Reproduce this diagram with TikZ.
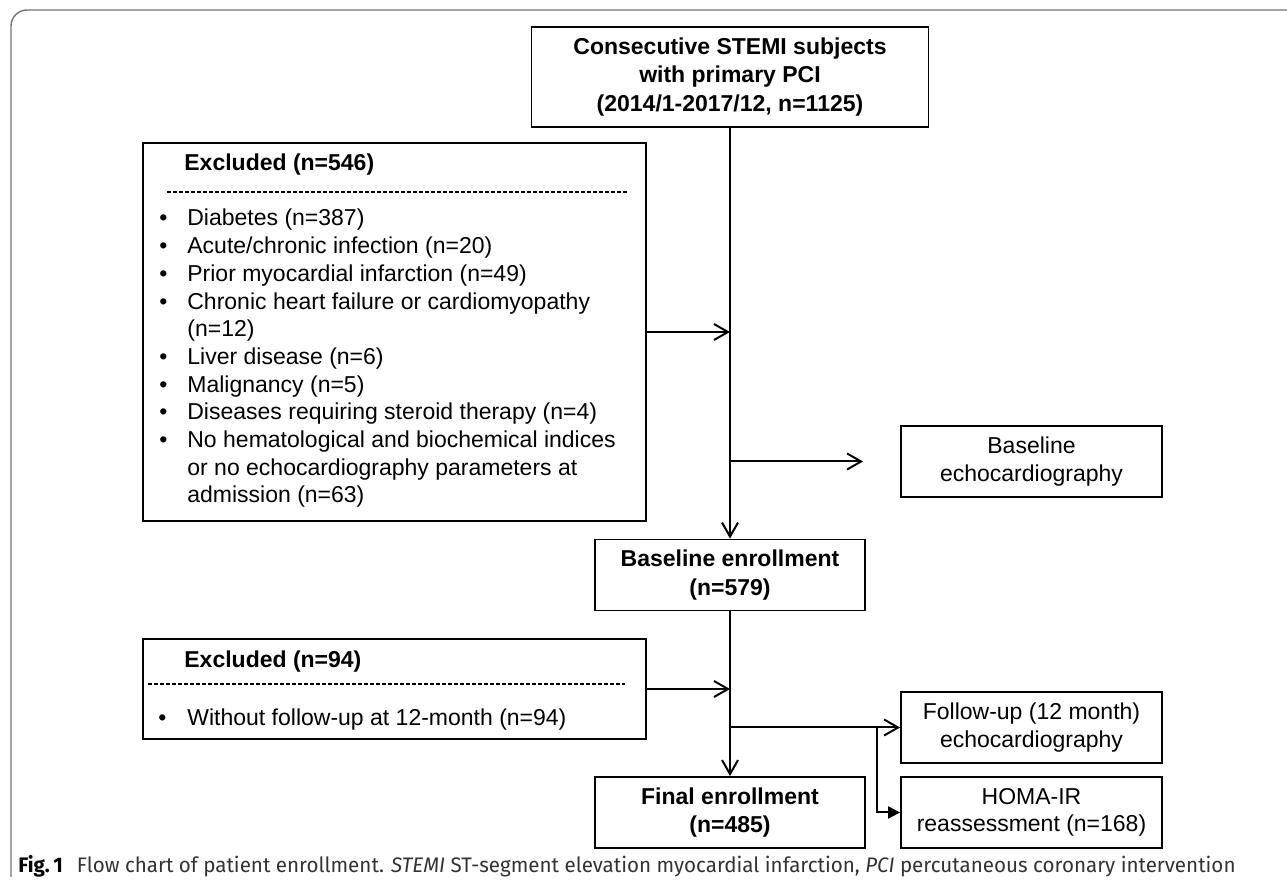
\documentclass[tikz,border=0pt]{standalone}
\usepackage{fontspec}
\setmainfont{Liberation Sans}
\newfontfamily\capfont[FakeStretch=0.98]{Fira Sans}
\usepackage{array}
\usetikzlibrary{arrows.meta}
\usetikzlibrary{positioning}
\usetikzlibrary{calc}

\tikzset{
  box/.style={draw, line width=0.9pt, inner sep=0pt, align=center, font=\fontsize{11.5}{13.6}\selectfont},
  boldbox/.style={box, font=\fontsize{11.5}{14.4}\selectfont\bfseries},
  centerbox/.style={boldbox, minimum width=135pt, minimum height=35.5pt},
  sidebox/.style={box, minimum width=130.5pt, minimum height=35.5pt},
  exbox/.style={draw, line width=0.9pt, inner sep=0pt, minimum width=251.5pt},
  extitle/.style={anchor=base west, inner sep=0pt, font=\fontsize{11.5}{13.8}\selectfont\bfseries},
  exlist/.style={anchor=base west, inner sep=0pt, font=\fontsize{11.5}{13.85}\selectfont},
  sep/.style={line width=0.8pt, dash pattern=on 2pt off 1pt},
  flow/.style={line width=1pt, -{Straight Barb[length=7pt,width=8pt]}},
  flowfill/.style={line width=1pt, -{Triangle[length=6pt,width=6pt]}},
  frame/.style={draw=black!55, line width=0.7pt}
}

\begin{document}
\begin{tikzpicture}[x=0.5pt,y=-0.5pt]

        % page frame
        \useasboundingbox (0,0) rectangle (1287,887);
        \draw[frame, rounded corners=8pt] (1287,10) -- (11,10) -- (11,877);

        % draw the main column
        \node[boldbox, minimum width=198.5pt, minimum height=50pt] (start) at (730,77) {Consecutive STEMI subjects\\with primary PCI\\(2014/1-2017/12, n=1125)};
        \node[centerbox] (baseline) at (730,575) {Baseline enrollment\\(n=579)};
        \node[centerbox] (final) at (730,812.5) {Final enrollment\\(n=485)};

        % draw the first exclusion box
        \node[exbox, minimum height=189pt] (excl1) at (394.5,332) {};
        \node[extitle] (excl1_title) at (184,171) {Excluded (n=546)};
        \draw[sep] (167,192) -- (628,192);
        \node[exlist] (excl1_list) at (159,226) {%
          \begin{tabular}[t]{@{}p{14pt}@{}l@{}}
            \textbullet & Diabetes (n=387)\\
            \textbullet & Acute/chronic infection (n=20)\\
            \textbullet & Prior myocardial infarction (n=49)\\
            \textbullet & Chronic heart failure or cardiomyopathy\\
                        & (n=12)\\
            \textbullet & Liver disease (n=6)\\
            \textbullet & Malignancy (n=5)\\
            \textbullet & Diseases requiring steroid therapy (n=4)\\
            \textbullet & No hematological and biochemical indices\\
                        & or no echocardiography parameters at\\
                        & admission (n=63)
          \end{tabular}};

        % draw the second exclusion box
        \node[exbox, minimum height=50pt] (excl2) at (394.5,689) {};
        \node[extitle] (excl2_title) at (184,668) {Excluded (n=94)};
        \draw[sep] (148,684) -- (625,684);
        \node[exlist] (excl2_list) at (158,726) {%
          \begin{tabular}[t]{@{}p{14.5pt}@{}l@{}}
            \textbullet & Without follow-up at 12-month (n=94)
          \end{tabular}};

        % draw the side boxes
        \node[sidebox] (echo_base) at (1031.5,461.5) {Baseline\\echocardiography};
        \node[sidebox] (echo_fu) at (1031.5,727.5) {Follow-up (12 month)\\echocardiography};
        \node[sidebox] (homa) at (1031.5,812.5) {HOMA-IR\\reassessment (n=168)};

        % joints on the main line
        \coordinate (join1) at (excl1.east -| start.south);
        \coordinate (join2) at (echo_base.west -| start.south);
        \coordinate (join2_end) at ($(echo_base.west) + (-37,0)$);
        \coordinate (join3) at (excl2.east -| baseline.south);
        \coordinate (join4) at (echo_fu.west -| baseline.south);
        \coordinate (join5) at ($(echo_fu.west) + (-23,0)$);

        % draw the connecting arrows
        \draw[flow] (start.south) -- (baseline.north);
        \draw[flow] (excl1.east) -- (join1);
        \draw[flow] (join2) -- (join2_end);
        \draw[flow] (baseline.south) -- (final.north);
        \draw[flow] (excl2.east) -- (join3);
        \draw[flow] (join4) -- (echo_fu.west);
        \draw[flowfill] (join5) |- (homa.west);

        % caption
        \node[anchor=base west, inner sep=0pt, text=black!80, font=\capfont\fontsize{10.5}{12}\selectfont] (caption) at (18,873) {\textbf{\color{black}Fig.\,1}\hspace{7pt}Flow chart of patient enrollment. \textit{STEMI} ST-segment elevation myocardial infarction, \textit{PCI} percutaneous coronary intervention};

      \end{tikzpicture}
\end{document}
